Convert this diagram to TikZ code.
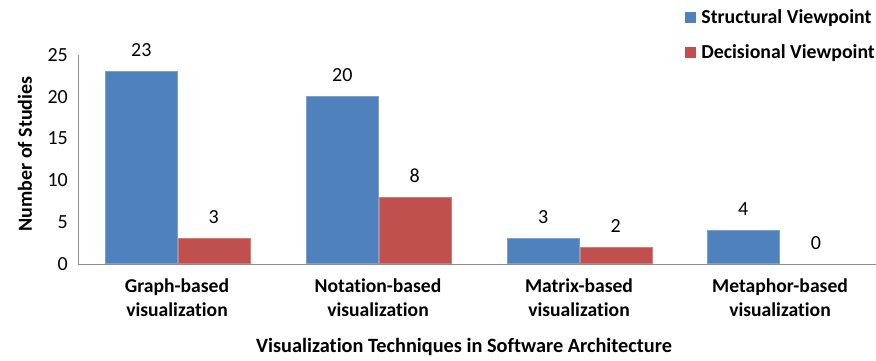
\documentclass[tikz,border=0pt]{standalone}
\usepackage{fontspec}
\setmainfont{Carlito}[Ligatures=NoCommon]
\usetikzlibrary{positioning}
\definecolor{structblue}{HTML}{4F81BD}
\definecolor{decisred}{HTML}{C0504D}
\definecolor{axisgray}{HTML}{8C8C8C}
\tikzset{
  Bar1/.style = {
    fill = structblue,
    draw = structblue!75!white,
    line width = 0.6pt,
    inner sep = 0pt,
    minimum width = 72pt,
    anchor = south west,
  },
  Bar2/.style = {
    Bar1,
    fill = decisred,
    draw = decisred!75!white,
  },
  Val1/.style = {
    font = \fontsize{20}{23}\selectfont,
    inner sep = 0pt,
  },
  Cat1/.style = {
    font = \bfseries\fontsize{19.6}{24}\selectfont,
    align = center,
    inner sep = 0pt,
  },
  Key1/.style = {
    minimum size = 11pt,
    inner sep = 0pt,
  },
  Axis1/.style = {
    draw = axisgray,
    line width = 0.8pt,
  }
}

\begin{document}
\begin{tikzpicture}[x=1pt, y=1pt]
      \useasboundingbox (0,0) rectangle (876,361);
      % axes
      \coordinate (orig) at (78,97);
      \coordinate (ytop) at (78,306);
      \coordinate (xend) at (876,97);
      \draw[Axis1] (ytop) -- (orig) -- (xend);
      % y ticks
      \node[Val1, anchor=east] (t0) at (68,97) {0};
      \node[Val1, anchor=east] (t5) at (68,138.8) {5};
      \node[Val1, anchor=east] (t10) at (68,180.6) {10};
      \node[Val1, anchor=east] (t15) at (68,222.4) {15};
      \node[Val1, anchor=east] (t20) at (68,264.2) {20};
      \node[Val1, anchor=east] (t25) at (68,306) {25};
      \node[Cat1, font=\bfseries\fontsize{20}{24}\selectfont, rotate=90] (ytitle) at (25,207) {Number of Studies};
      % bars
      \node[Bar1, minimum height=23*8.36pt] (sb1) at (105,97) {};
      \node[Bar2, minimum height=3*8.36pt] (db1) at (177.5,97) {};
      \node[Bar1, minimum height=20*8.36pt] (sb2) at (306,97) {};
      \node[Bar2, minimum height=8*8.36pt] (db2) at (378.5,97) {};
      \node[Bar1, minimum height=3*8.36pt] (sb3) at (507,97) {};
      \node[Bar2, minimum height=2*8.36pt] (db3) at (579.5,97) {};
      \node[Bar1, minimum height=4*8.36pt] (sb4) at (707,97) {};
      \coordinate (db4) at (816,97);
      % values
      \node[Val1, above=14pt of sb1] (sv1) {23};
      \node[Val1, above=14pt of db1] (dv1) {3};
      \node[Val1, above=14pt of sb2] (sv2) {20};
      \node[Val1, above=14pt of db2] (dv2) {8};
      \node[Val1, above=14pt of sb3] (sv3) {3};
      \node[Val1, above=14pt of db3] (dv3) {2};
      \node[Val1, above=14pt of sb4] (sv4) {4};
      \node[Val1, above=14pt of db4] (dv4) {0};
      % categories
      \node[Cat1] (c1) at (177,63) {Graph-based\\visualization};
      \node[Cat1] (c2) at (378,63) {Notation-based\\visualization};
      \node[Cat1] (c3) at (579,63) {Matrix-based\\visualization};
      \node[Cat1] (c4) at (780,63) {Metaphor-based\\visualization};
      \node[Cat1, font=\bfseries\fontsize{20.3}{24}\selectfont] (xtitle) at (464,14) {Visualization Techniques in Software Architecture};
      % legend
      \node[Key1, fill=structblue] (k1) at (690.5,343) {};
      \node[Cat1, font=\bfseries\fontsize{19.8}{24}\selectfont, right=5pt of k1] (l1) {Structural Viewpoint};
      \node[Key1, fill=decisred] (k2) at (690.5,308) {};
      \node[Cat1, font=\bfseries\fontsize{19.8}{24}\selectfont, right=5pt of k2] (l2) {Decisional Viewpoint};
    \end{tikzpicture}
\end{document}
